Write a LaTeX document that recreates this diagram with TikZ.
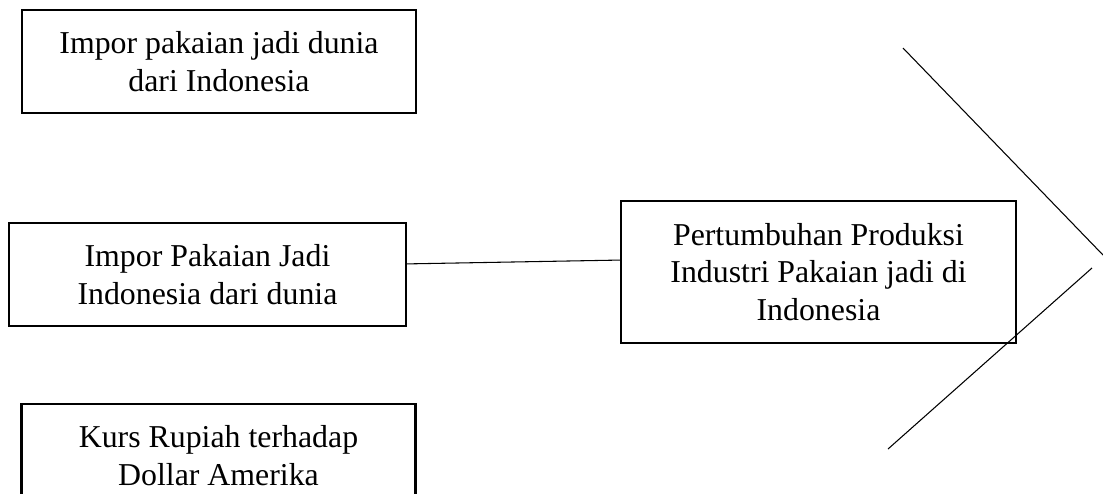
\documentclass[tikz,border=0pt]{standalone}
\usepackage{fontspec}
\setmainfont{Liberation Serif}
\usetikzlibrary{positioning, calc}

\begin{document}
\begin{tikzpicture}[
  x=0.377pt, y=-0.377pt,
  factor/.style={
    rectangle, draw=black, line width=0.9pt,
    minimum width=148.5pt, minimum height=38.8pt,
    inner sep=0pt, align=center, font=\fontsize{12}{14.6}\selectfont
  },
  link/.style={draw=black, line width=0.4pt}
]
\useasboundingbox (0,0) rectangle (1103,493);

% ---- factors (left column) ----
\node[factor]                       (ekspor)  at (219,   61.5)  {Impor pakaian jadi dunia\\dari Indonesia};
\node[factor, minimum width=149.7pt] (impor)   at (207.5, 274.5) {Impor Pakaian Jadi\\Indonesia dari dunia};
\node[factor]                       (kurs)    at (218.5, 455.5) {Kurs Rupiah terhadap\\Dollar Amerika};

% ---- outcome ----
\node[factor, minimum width=148.9pt, minimum height=53.5pt,
      font=\fontsize{12}{14.2}\selectfont] (produksi) at (818.5, 272)
      {Pertumbuhan Produksi\\Industri Pakaian jadi di\\Indonesia};

% ---- free ends of the open bracket ----
\coordinate (atas1)  at (903, 48);
\coordinate (atas2)  at (1103, 255);
\coordinate (bawah1) at (1092, 268);
\coordinate (bawah2) at (888, 449);

% ---- connectors ----
\draw[link] ([yshift=4pt]impor.east) -- ([yshift=4.5pt]produksi.west);
\draw[link] (atas1) -- (atas2);
\draw[link] (bawah1) -- (bawah2);

\end{tikzpicture}
\end{document}
